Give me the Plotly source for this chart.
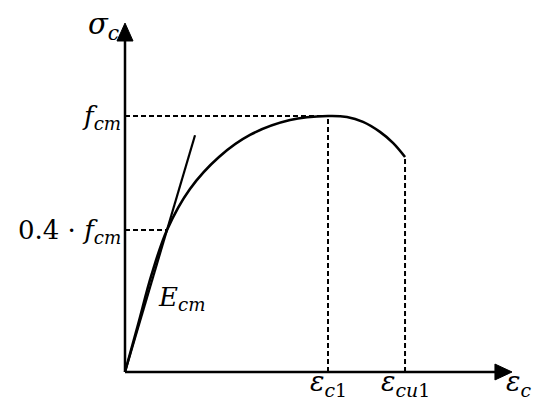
import plotly.graph_objects as go

# Stress-strain curve of concrete (schematic), strain in per mille, stress as sigma/f_cm
strain = [0.0, 0.128, 0.261, 0.414, 0.640, 0.926, 1.232, 1.626, 2.0, 2.187, 2.345, 2.512, 2.640, 2.759]
stress = [0.0, 0.184, 0.379, 0.555, 0.715, 0.840, 0.926, 0.984, 1.0, 0.996, 0.977, 0.938, 0.895, 0.840]

eps_c1 = 2.0          # strain at peak stress
eps_cu1 = 2.759       # ultimate strain
f_cm = 1.0            # peak stress
sec_level = 0.555     # level of the secant point
sec_strain = 0.414    # strain of the secant point
ecm_end = 0.69        # strain where the E_cm line stops

ecm_slope = sec_level / sec_strain

x_axis_end = 3.813
y_axis_end = 1.363

FONT = "DejaVu Serif"

fig = go.Figure()

# dashed guide lines
dash = dict(color="black", width=2, dash="5px,3px")
fig.add_trace(go.Scatter(x=[0, eps_c1], y=[f_cm, f_cm], mode="lines", line=dash))
fig.add_trace(go.Scatter(x=[eps_c1, eps_c1], y=[0, f_cm], mode="lines", line=dash))
fig.add_trace(go.Scatter(x=[0, sec_strain], y=[sec_level, sec_level], mode="lines", line=dash))
fig.add_trace(go.Scatter(x=[eps_cu1, eps_cu1], y=[0, stress[-1]], mode="lines", line=dash))

# secant modulus line E_cm
fig.add_trace(go.Scatter(x=[0, ecm_end], y=[0, ecm_slope * ecm_end], mode="lines",
                         line=dict(color="black", width=2.2)))

# stress-strain curve
fig.add_trace(go.Scatter(x=strain, y=stress, mode="lines",
                         line=dict(color="black", width=2.6, shape="spline", smoothing=1.0)))

# axes with arrow heads
ax_line = dict(color="black", width=2.5)
fig.add_trace(go.Scatter(x=[0, 3.66], y=[0, 0], mode="lines", line=ax_line))
fig.add_trace(go.Scatter(x=[0, 0], y=[0, 1.30], mode="lines", line=ax_line))
fig.add_trace(go.Scatter(x=[x_axis_end, 3.645, 3.645, x_axis_end], y=[0, 0.031, -0.031, 0],
                         mode="lines", fill="toself", fillcolor="black",
                         line=dict(color="black", width=1)))
fig.add_trace(go.Scatter(x=[0, 0.079, -0.079, 0], y=[y_axis_end, 1.293, 1.293, y_axis_end],
                         mode="lines", fill="toself", fillcolor="black",
                         line=dict(color="black", width=1)))


def label(text, x, y, xanchor="center", yanchor="middle", size=26, xshift=0, yshift=0):
    fig.add_annotation(x=x, y=y, text=text, showarrow=False, xanchor=xanchor,
                       yanchor=yanchor, xshift=xshift, yshift=yshift,
                       font=dict(family=FONT, size=size, color="black"))


label("<i>σ</i><sub><i>c</i></sub>", 0, y_axis_end, xanchor="right", xshift=-4, yshift=-3, size=29)
label("<i>f</i><sub><i>cm</i></sub>", 0, f_cm, xanchor="right", xshift=-2, yshift=-2)
label("0.4 · <i>f</i><sub><i>cm</i></sub>", 0, sec_level, xanchor="right", xshift=-2, yshift=-2)
label("<i>E</i><sub><i>cm</i></sub>", 0.555, 0.289)
label("<i>ε</i><sub><i>c</i>1</sub>", eps_c1, 0, yanchor="top", yshift=8, size=27)
label("<i>ε</i><sub><i>cu</i>1</sub>", eps_cu1, 0, yanchor="top", yshift=8, size=27)
label("<i>ε</i><sub><i>c</i></sub>", x_axis_end - 0.08, 0, xanchor="left", yanchor="top", yshift=8, size=27)

fig.update_layout(
    width=534, height=400,
    margin=dict(l=0, r=0, t=0, b=0),
    paper_bgcolor="white", plot_bgcolor="white",
    showlegend=False,
    xaxis=dict(range=[-1.2315, 4.0296], visible=False, fixedrange=True),
    yaxis=dict(range=[-0.1094, 1.4531], visible=False, fixedrange=True),
)

fig.write_html("out.html")
